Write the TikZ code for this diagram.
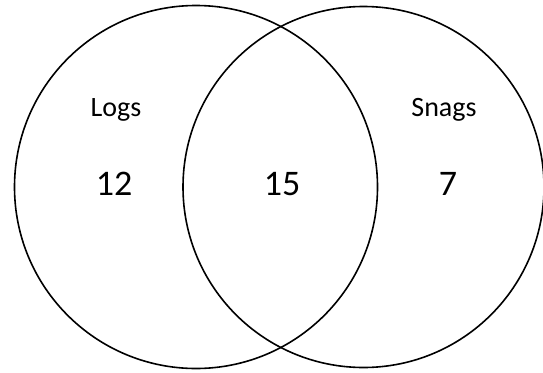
\documentclass[tikz,border=0pt]{standalone}
\usepackage{fontspec}
\setmainfont{Carlito}
\begin{document}
\begin{tikzpicture}[x=1pt,y=-1pt,
  setcircle/.style={draw=black,line width=1.6pt},
  setlabel/.style={font=\fontsize{28}{30}\selectfont,anchor=base,inner sep=0pt},
  countlabel/.style={font=\fontsize{36}{38}\selectfont,anchor=base,inner sep=0pt}]
  \useasboundingbox[fill=white] (0,0) rectangle (543,372);
  % the two sets
  \draw[setcircle] (196,187) circle (181.5);
  \draw[setcircle] (363.5,187) circle (180.5);
  % set names
  \node[setlabel] (logs) at (116,116) {Logs};
  \node[setlabel] (snags) at (444,116) {Snags};
  % counts in each region
  \node[countlabel] (onlylogs) at (114,195) {12};
  \node[countlabel] (both) at (282,195) {15};
  \node[countlabel] (onlysnags) at (448,195) {7};
\end{tikzpicture}
\end{document}
